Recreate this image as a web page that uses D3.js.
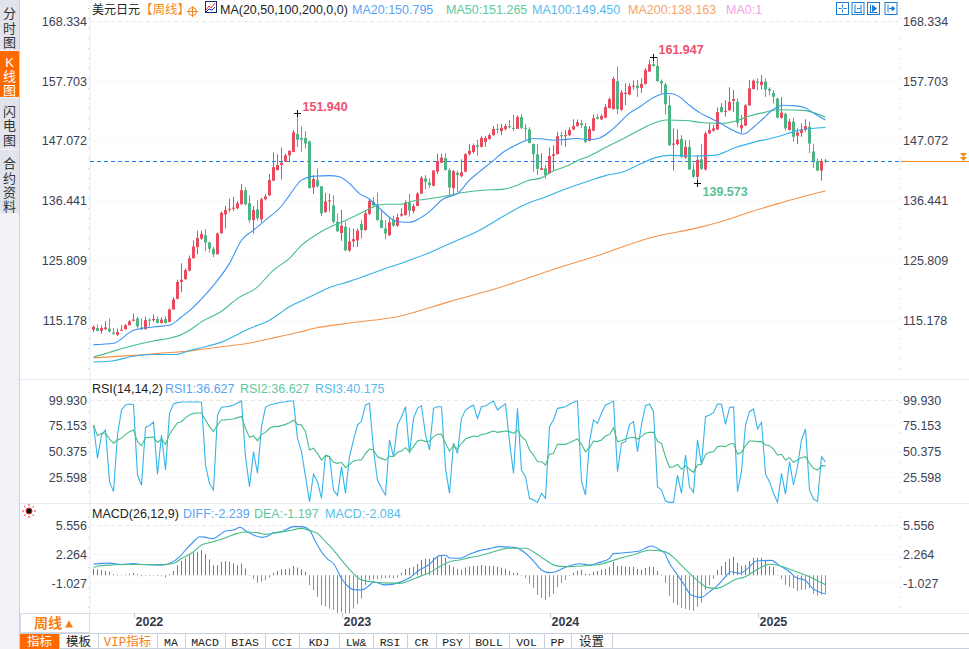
<!DOCTYPE html>
<html>
<head>
<meta charset="utf-8">
<title>美元日元 周线</title>
<script src="https://cdnjs.cloudflare.com/ajax/libs/d3/7.9.0/d3.min.js"></script>
<style>
  html, body { margin: 0; padding: 0; background: #fff; overflow: hidden; }
  svg { display: block; font-family: "Liberation Sans", "Noto Sans CJK SC", sans-serif; }
</style>
</head>
<body>
<svg id="chart" width="969" height="649"></svg>
<script>
// ── K 線（週線，共 184 根）────────────────────────────
const opens = [
  113.5,113.8,113.3,113.6,113.7,113.0,112.6,113.4,113.6,114.3,
  115.1,115.5,113.9,113.6,115.3,115.2,115.4,114.7,115.4,114.9,
  117.1,119.0,122.0,122.5,124.0,126.2,128.2,129.7,130.3,129.0,
  127.9,126.9,130.7,134.0,134.9,135.0,135.1,135.8,138.3,136.0,
  133.0,134.9,133.1,136.7,137.4,140.0,141.9,142.8,143.4,144.5,
  145.1,148.3,147.6,147.6,147.0,138.8,140.1,139.0,134.4,136.3,
  135.6,132.7,130.7,131.8,127.6,129.2,129.4,132.3,131.2,134.1,
  136.2,135.8,133.0,131.5,130.3,133.0,132.0,133.8,133.9,136.1,
  134.6,135.5,137.7,140.4,139.7,139.1,141.6,143.2,144.0,141.9,
  138.7,141.4,140.8,141.6,144.7,145.1,146.3,146.0,146.9,147.4,
  148.1,149.2,148.8,149.2,149.7,149.4,149.2,151.3,149.4,149.1,
  146.5,144.7,141.9,142.2,141.3,144.4,144.7,148.1,147.9,148.1,
  149.1,149.7,150.2,149.7,147.1,148.9,151.3,150.9,151.2,152.9,
  152.7,157.7,152.6,155.4,155.3,156.8,156.9,156.5,157.2,159.4,
  160.7,160.4,157.7,157.1,153.4,146.4,146.5,147.4,144.1,146.0,
  142.0,140.7,143.8,142.0,148.4,148.9,149.1,153.1,152.3,152.5,
  154.2,154.0,149.3,149.8,153.4,156.3,157.6,157.0,157.6,156.3,
  155.6,154.6,151.2,151.9,149.0,150.5,148.0,148.5,149.1,149.6,
  145.2,143.5,141.8,143.6
];
const highs = [
  114.3,114.5,114.3,115.0,115.5,113.8,113.7,114.3,114.5,115.2,
  116.4,115.8,115.5,115.8,115.5,116.2,115.9,115.7,115.9,117.3,
  119.3,122.4,125.3,124.4,126.7,129.4,131.1,131.1,131.4,129.2,
  128.2,130.8,134.5,135.5,136.8,137.1,136.4,139.4,138.8,137.4,
  135.5,136.5,137.0,137.6,141.2,145.0,144.7,145.9,144.8,145.4,
  149.0,151.94,149.7,148.8,147.1,141.0,142.2,139.0,137.8,137.7,
  137.4,134.2,134.8,132.7,131.6,131.5,131.5,133.0,134.8,136.8,
  137.1,137.9,134.9,133.0,133.5,133.8,134.1,135.1,136.5,137.7,
  135.9,138.0,140.8,141.0,140.4,141.9,144.8,144.8,144.9,142.2,
  141.9,141.8,143.8,144.9,146.5,146.6,147.3,147.9,147.9,148.4,
  149.7,150.1,150.1,150.1,150.8,151.7,151.6,151.8,150.1,149.5,
  146.6,146.5,144.9,142.8,145.9,146.3,148.7,148.7,149.0,149.5,
  150.9,150.9,150.8,150.3,149.7,151.8,151.8,151.8,153.6,154.8,
  158.5,160.3,156.1,157.3,157.3,157.8,157.9,158.2,160.0,161.5,
  161.947,161.9,158.0,157.4,155.2,149.3,149.1,148.1,147.2,147.2,
  143.1,144.5,146.5,148.7,150.2,149.9,153.0,153.8,154.3,156.6,
  156.1,154.6,151.7,153.6,157.9,158.0,158.2,158.8,158.2,156.6,
  156.1,154.8,154.9,152.1,151.0,151.2,149.3,150.2,150.9,150.5,
  146.6,143.9,143.9,143.9
];
const lows = [
  113.1,113.2,112.8,113.5,113.0,112.6,112.4,113.3,113.5,114.3,
  115.0,113.7,113.4,113.5,114.1,114.9,114.6,114.6,114.6,114.8,
  117.1,118.9,120.2,122.3,123.9,126.2,126.9,129.5,127.5,127.2,
  126.4,126.9,130.5,131.5,134.4,134.6,134.9,135.8,135.6,132.5,
  130.6,132.9,132.6,136.5,137.3,139.9,141.8,140.2,143.3,143.4,
  145.1,146.0,145.1,145.7,138.6,137.6,138.8,133.7,134.3,134.5,
  132.4,130.9,129.3,127.5,127.3,128.2,128.2,129.7,131.1,133.9,
  135.3,132.9,131.5,129.6,130.2,131.8,131.8,133.6,133.8,133.6,
  134.2,135.5,137.6,138.5,138.7,139.0,141.2,143.1,141.8,137.1,
  137.6,138.0,140.6,141.5,144.5,144.8,144.4,145.9,146.0,147.3,
  148.0,148.4,148.1,148.9,149.3,148.8,149.2,149.2,147.2,146.6,
  141.6,141.0,141.9,140.3,141.2,141.8,144.7,146.3,146.0,147.9,
  149.0,149.6,149.3,146.7,147.0,148.8,150.9,150.8,151.2,152.9,
  152.7,151.8,152.4,153.4,155.2,156.2,154.9,155.6,157.1,159.4,
  160.3,157.6,155.5,151.8,146.2,141.8,146.3,144.1,143.9,141.9,
  140.5,139.573,141.9,141.8,148.3,148.7,149.0,152.1,151.4,152.4,
  152.2,149.5,148.5,149.7,153.3,156.2,156.1,156.2,154.9,155.2,
  153.7,151.1,151.0,148.9,148.9,146.9,146.5,147.8,148.7,144.9,
  142.2,141.7,140.0,143.1
];
const closes = [
  114.0,113.3,113.8,113.9,113.2,112.8,113.1,113.5,114.3,115.0,
  115.3,114.1,113.6,115.2,115.2,115.4,114.7,115.3,114.7,117.1,
  118.9,122.0,122.4,124.1,126.2,128.3,129.8,130.5,129.0,127.9,
  126.9,130.6,134.3,134.8,135.0,135.2,136.0,138.3,135.8,133.0,
  134.8,133.3,136.7,137.2,140.1,142.4,142.8,143.2,144.5,145.3,
  148.6,147.3,147.3,146.6,138.7,140.3,139.0,134.2,136.3,136.5,
  132.7,131.0,132.0,127.6,129.2,129.6,131.1,131.2,134.2,136.4,
  135.6,133.0,131.6,130.6,132.6,132.0,133.5,134.1,136.1,134.7,
  135.5,137.7,140.5,139.8,139.2,141.8,143.5,144.1,141.9,138.8,
  141.7,141.0,141.5,144.7,145.3,146.3,146.0,147.6,147.6,148.1,
  149.2,149.1,149.4,149.7,149.5,149.2,151.3,149.4,149.2,146.7,
  144.7,142.1,142.2,141.0,144.4,144.7,147.9,147.9,148.1,149.0,
  149.7,150.4,149.9,146.9,149.2,151.1,151.0,151.5,153.1,154.5,
  158.1,152.7,155.7,155.6,156.8,156.9,156.5,157.2,159.7,160.7,
  160.4,157.7,157.3,153.6,146.3,146.6,147.3,144.2,146.0,142.0,
  140.7,143.7,142.1,148.4,149.0,149.3,152.2,152.2,152.4,154.0,
  154.5,150.3,149.9,153.4,156.4,157.8,157.4,157.6,156.2,156.0,
  154.9,151.2,152.1,149.3,150.5,147.8,148.6,149.1,149.7,146.6,
  143.5,141.8,143.5,143.4
];

// ── 均線：[K 線序號, 數值] ────────────────────────────
const ma20 = [
  [0,110.85],[5,111.1],[10,113.4],[15,114.0],[19,114.3],[22,115.8],[24,116.9],[27,119.0],[30,121.4],
  [34,125.3],[37,129.4],[40,131.2],[43,133.0],[47,135.5],[49,137.4],[52,140.1],[55,140.8],[59,140.9],
  [61.5,140.7],[64,139.5],[66.5,137.7],[69,136.7],[71.5,135.1],[75,133.0],[76.5,132.7],[79,132.6],
  [81.5,133.3],[84,134.5],[87.5,136.8],[91,137.7],[94,140.1],[96.5,141.6],[100,143.6],[102.5,145.1],
  [105.5,146.3],[108,147.1],[110,147.5],[112.5,147.4],[115,147.2],[117.5,147.3],[120.5,147.5],[124,147.3],
  [126.5,147.6],[129,148.7],[131.5,150.3],[134,152.0],[136.5,153.1],[140,154.8],[143,155.5],[144,155.5],
  [146.5,154.9],[149,153.4],[151.5,152.1],[154,151.2],[157.5,149.9],[160,148.9],[162.5,148.3],[165,149.5],
  [167.5,151.1],[170,152.7],[172.5,153.4],[175.5,153.3],[178,152.9],[180.5,151.8],[183,150.795]
];
const ma50 = [
  [0,108.66],[3,109.25],[5,109.7],[10,110.7],[15,111.5],[19,112.0],[21.5,112.5],[24,113.4],[27,114.9],
  [32,116.8],[36.5,119.3],[40.5,120.8],[45,124.1],[49,126.2],[52,128.5],[55.5,130.3],[59,131.7],[63,132.9],
  [67,134.3],[69.5,135.2],[73,135.8],[76.5,135.8],[80,136.4],[84,136.8],[89,137.4],[92.5,137.9],[97.5,138.3],
  [102.5,138.5],[106,139.2],[108.5,140.0],[112,140.5],[114.5,141.6],[118,142.5],[121.5,143.7],[124,144.4],
  [128,145.9],[132.5,147.5],[136.5,149.0],[140,150.2],[143,150.8],[148,150.7],[152.5,150.3],[157.5,150.2],
  [160.5,150.6],[164,151.5],[167.5,152.1],[171,152.6],[177.5,152.5],[180,152.1],[183,151.265]
];
const ma100 = [
  [0,107.77],[5,108.0],[10,108.8],[15,109.1],[20.5,109.1],[24,109.8],[27,110.3],[32,111.3],[39,113.7],
  [44,115.2],[49,117.6],[54,119.3],[59,121.0],[64,122.1],[72.3,124.2],[78,125.6],[84,127.2],[90,129.1],
  [96.5,131.2],[103,133.9],[108,135.8],[113,137.1],[117.5,138.4],[124,140.0],[128,140.9],[132.5,141.6],
  [136.5,142.9],[140.5,144.1],[144,144.5],[149,144.4],[155,144.5],[160.5,145.9],[165.5,146.9],[171,147.8],
  [176,148.9],[183,149.45]
];
const ma200 = [
  [0,108.5],[9,108.9],[13,109.1],[18,109.4],[24,109.7],[31,110.4],[38,111.0],[44,111.9],[51,113.0],
  [55.5,113.8],[64,114.7],[76.5,115.9],[89,118.5],[101.5,121.0],[114,124.0],[126.5,126.8],[139,129.8],
  [151.5,131.7],[159,133.2],[164,134.4],[171.5,136.0],[177,137.1],[183,138.163]
];

// ── RSI ──────────────────────────────────────────────
const rsi14 = [
  75.9,65.6,67.9,67.9,62.5,58.3,61.5,63.1,66.9,69.5,
  71.1,59.9,56,63.7,64,64.3,59.2,62.4,57.3,66.9,
  72.7,78.1,79.1,83,85.5,87.1,87.4,87.4,80.7,74.3,
  69.5,75.9,80.7,80.7,81.4,81.7,83,84.2,72.7,64,
  65.6,60.8,66.9,68.8,72.7,74.3,74.3,75.3,76.5,78.1,
  80.7,76.5,75.9,69.5,51.8,53.5,48.6,42.2,46.4,45.4,
  40,39,40,34.9,38.1,41.3,42.2,42.2,48.6,52.8,
  51.8,45.4,43.8,42.2,46.1,45.4,49.6,50.9,54.1,50.2,
  55.1,60.5,61.5,59.9,60.5,64.7,66.9,66.9,58.3,50.9,
  56,52.8,58.3,62.4,64,65.3,64.7,66.9,67.2,68.8,
  70.1,68.8,69.5,70.1,69.5,67.9,71.1,64.7,61.5,51.8,
  47,40.6,40.6,37.4,47.7,48.6,57.3,57.3,57.3,58.9,
  60.8,62.4,57.3,50.2,54.1,60.5,59.9,61.5,65.3,66.6,
  73.3,59.9,60.8,62.4,63.7,64,62.4,64.7,67.9,68.8,
  68.8,59.9,58.3,45.4,35.2,35.8,38.1,33.3,36.8,33.3,
  30.4,37.4,38.1,47.7,49.6,50.2,55.1,55.7,55.1,57.3,
  58.3,47.7,49.6,56,60.5,60.5,59.9,59.9,56.7,56,
  52.8,47,47.7,42.2,44.5,40,42.2,44.5,45.4,39,
  34.2,32.6,36.8,36.627
];
const rsi3 = [
  75.9,43.8,66.3,71.1,21.4,11.8,66.3,90.3,95.1,96.1,
  95.4,27.8,18,73.6,75.3,78.8,28.5,66.3,32.6,87.1,
  96.1,97.4,98,98,98,98,98,98,37.4,19.8,
  13.4,85.5,92.9,93.5,93.8,95.1,97,99,45.4,16.6,
  50.2,29.4,74.3,92.9,95.1,96.1,97,97.7,98.3,99,
  99,63.1,50.2,26.2,2.2,28.5,21.4,5.4,47,45.4,
  13.4,8,35.8,10.2,45.4,61.5,75.9,79.7,95.1,96.7,
  51.8,23,15,8.6,61.5,45.4,75.9,83.9,93.5,48.6,
  82.3,91.9,94.5,66.3,51.8,91.9,93.5,93.5,34.2,10.2,
  58.3,48.6,82.3,90.3,92.9,95.1,82.3,93.5,94.2,96.7,
  99,90.3,93.5,96.4,59.9,29.4,91.9,32.6,26.2,5.4,
  3.8,1.5,10.2,5.4,74.3,80.7,91.9,92.6,93.5,95.8,
  97.7,99,21.4,8.6,59.9,80.7,77.5,87.1,95.1,96.7,
  99,31,58.3,59.9,76.5,79.1,50.2,76.5,94.5,96.1,
  88.7,16.6,13.4,2.8,1.5,1.5,27.8,10.2,47,16.6,
  11.1,61.5,37.4,83.9,85.5,87.7,96.1,95.8,76.5,92.6,
  93.2,11.8,31,75.9,88.7,91.3,72,78.5,28.8,21.4,
  10.2,1.5,29.4,9.2,40.6,18.2,35.8,61.5,72,13.4,
  4.7,2.2,45.4,40.175
];

// ── MACD ─────────────────────────────────────────────
const macdHist = [
  0.76,0.65,0.57,0.49,0.38,0.11,0.04,0.04,0.08,0.15,
  0.27,0.11,-0.11,-0.08,-0.04,-0.04,-0.08,-0.11,-0.27,0.11,
  0.49,1.14,1.63,1.9,2.28,2.55,2.66,2.85,2.4,1.79,
  1.14,1.14,1.52,1.6,1.52,1.33,1.14,1.33,0.76,-0.02,
  -0.42,-0.87,-0.76,-0.57,-0.27,0.27,0.49,0.65,0.68,0.76,
  1.03,0.87,0.68,0.38,-1.14,-1.71,-2.47,-3.42,-3.54,-3.8,
  -3.92,-4.3,-4.18,-4.3,-4.3,-3.8,-3.31,-2.66,-1.14,-0.57,
  -0.49,-0.46,-0.38,-0.34,-0.3,-0.38,-0.27,0.27,0.72,0.83,
  0.95,1.29,1.74,1.86,1.86,2.01,2.2,2.31,2.01,1.17,
  0.95,0.72,0.61,0.87,0.98,1.06,1.06,1.17,1.06,1.06,
  1.06,0.95,0.83,0.72,0.49,0.27,0.27,-0.02,-0.34,-0.91,
  -1.44,-2.23,-2.58,-2.8,-2.46,-2.12,-1.36,-0.87,-0.53,-0.08,
  0.27,0.49,0.61,0.15,0.15,0.38,0.49,0.61,0.72,0.95,
  1.52,1.06,1.06,0.95,0.95,0.95,0.72,0.61,0.83,0.95,
  0.95,0.49,0.04,-0.87,-2.35,-3.14,-3.37,-3.71,-3.83,-3.94,
  -4.05,-3.6,-3.14,-1.67,-1.1,-0.42,0.61,1.06,1.52,1.86,
  2.08,1.4,1.06,1.17,1.63,1.97,1.97,1.97,1.74,1.06,
  0.95,0.04,-0.42,-1.1,-1.33,-1.48,-1.78,-1.67,-1.63,-1.48,
  -2.12,-2.31,-2.23,-2.084
];
const macdDiff = [
  [0,1.15],[4,1.26],[7,1.11],[10,1.22],[12,1.11],[17,1.03],[19,1.22],[21.5,1.98],[23,2.74],[25,3.69],
  [26.5,4.26],[28,4.19],[30,4.04],[31.5,4.45],[33,4.91],[35,5.02],[36.7,5.33],[38,4.95],[40,4.45],[42,4.19],
  [43.6,4.34],[45,4.72],[47,4.83],[50,5.4],[52,5.4],[54,5.02],[55.3,3.88],[57,2.55],[58.6,1.68],[60,1.22],
  [62,-0.49],[63.6,-1.36],[65,-1.74],[67,-1.78],[69,-1.25],[70,-0.87],[73,-1.21],[76.5,-0.92],[79,-0.39],
  [81.5,0.48],[84,1.13],[86.5,2.11],[88,2.15],[89,1.85],[91.5,1.81],[94,2.26],[96.5,2.68],[99,2.91],
  [101.5,3.13],[105.5,3.02],[108,2.38],[110.5,1.24],[112,0.48],[114,0.18],[115.5,0.29],[118,0.79],[121.5,1.2],
  [124,1.05],[126.5,1.35],[129,1.81],[130,2.34],[131.5,2.38],[134,2.49],[136.5,2.64],[139.4,3.21],[141.5,2.79],
  [142.8,2.38],[144,1.24],[146,-0.08],[147.7,-1.22],[149.4,-2.36],[151.9,-2.62],[154,-1.98],[155.7,-1.41],
  [157.3,-0.65],[159.4,0.29],[161.5,0.1],[163.6,0.67],[165.7,1.5],[169.5,1.58],[171.5,0.98],[174,0.29],
  [175.7,-0.39],[177.8,-0.65],[179.8,-1.6],[183,-2.239]
];
const macdDea = [
  [0,0.77],[1.5,0.96],[5,1.07],[10,1.11],[17,1.11],[20,1.22],[22,1.79],[25,2.55],[27,3.31],[30,3.69],
  [33,4.15],[36,4.64],[38,4.8],[41,4.72],[43,4.53],[46,4.72],[49,4.95],[52,5.21],[54,4.95],[56,4.64],
  [58,3.69],[60,2.74],[62,1.6],[65,0.08],[66.5,-0.53],[69,-0.83],[73,-0.98],[76.5,-1.03],[79,-0.73],
  [81.5,-0.27],[84,0.18],[86.5,0.86],[89,1.43],[91.5,1.62],[94,1.89],[96.5,2.11],[99,2.42],[101.5,2.76],
  [104,2.95],[108,2.95],[110.5,2.38],[113,1.62],[115.5,0.98],[118,0.86],[122,0.94],[126.5,1.13],[130,1.58],
  [131.5,1.81],[134.8,2.19],[139,2.72],[142.8,2.57],[144.8,2.0],[147.3,0.86],[149.4,-0.08],[151.5,-0.92],
  [153.6,-1.52],[155.7,-1.6],[158,-1.22],[160.2,-0.65],[163,-0.27],[165.7,0.48],[169,1.13],[172.3,0.86],
  [175.7,0.29],[179,-0.27],[183,-1.197]
];

// ── 刻度與標籤 ───────────────────────────────────────
const priceTicks = [168.334, 157.703, 147.072, 136.441, 125.809, 115.178];
const rsiTicks   = [99.930, 75.153, 50.375, 25.598];
const macdTicks  = [5.556, 2.264, -1.027];
const yearTicks  = [[10, "2022"], [62, "2023"], [114, "2024"], [166, "2025"]];
const LAST_PRICE = 143.4;
const priceMarks = [
  { i: 51,  price: 151.94,  label: "151.940", dx: 5, dy: -3, color: "#f0506e" },
  { i: 140, price: 161.947, label: "161.947", dx: 5, dy: -4, color: "#f0506e" },
  { i: 151, price: 139.573, label: "139.573", dx: 5, dy: 12, color: "#5cbf92" }
];
const tabs = [
  ["指标",20,59,"#fff"],["模板",59,98,"#222"],["VIP指标",98,157,"#f57f17"],["MA",157,185,"#222"],
  ["MACD",185,225,"#222"],["BIAS",225,265,"#222"],["CCI",265,299,"#222"],["KDJ",299,339,"#222"],
  ["LW&",339,373,"#222"],["RSI",373,407,"#222"],["CR",407,436,"#222"],["PSY",436,469,"#222"],
  ["BOLL",469,509,"#222"],["VOL",509,544,"#222"],["PP",544,571,"#222"],["设置",571,612,"#222"]
];
const sideTabs = [
  { chars: ["分","时","图"], y0: 0,   y1: 50,  ys: [13,28,42],     bg: "#e2e4ec", fg: "#333" },
  { chars: ["K","线","图"],  y0: 51,  y1: 97,  ys: [62,76,90],     bg: "#ff6a00", fg: "#fff" },
  { chars: ["闪","电","图"], y0: 98,  y1: 149, ys: [111,125,140],  bg: "#e2e4ec", fg: "#333" },
  { chars: ["合","约","资","料"], y0: 150, y1: 213, ys: [163,178,192,206], bg: "#e2e4ec", fg: "#333" }
];

const RED = "#ea4a5d", GREEN = "#4db585";
const C_MA20 = "#3a93f2", C_MA50 = "#45bd8a", C_MA100 = "#35b1e8", C_MA200 = "#f5944a";

const svg = d3.select("#chart");
const AXIS_L = 90, AXIS_R = 900.5;

// 比例尺
const x = d3.scaleLinear().domain([0, 183]).range([93.5, 825.5]);
const yPrice = d3.scaleLinear().domain([168.334, 115.178]).range([21.3, 320.3]);
const yRsi   = d3.scaleLinear().domain([99.93, 25.598]).range([400, 477.3]);
const yMacd  = d3.scaleLinear().domain([5.556, -1.027]).range([525.3, 583.3]);
const yHist  = d3.scaleLinear().domain([0, 1]).range([575.2, 566.4]); // 柱狀基準線略低於刻度零位

// ── 版面 ─────────────────────────────────────────────
svg.append("rect").attr("x", 0).attr("y", 0).attr("width", 19).attr("height", 649).attr("fill", "#f1f3f8");
svg.append("line").attr("x1", 19.5).attr("x2", 19.5).attr("y1", 0).attr("y2", 649).attr("stroke", "#ccd2dc");
sideTabs.forEach(t => {
  svg.append("rect").attr("x", 0).attr("y", t.y0).attr("width", 19).attr("height", t.y1 - t.y0).attr("fill", t.bg);
  t.chars.forEach((c, k) => {
    svg.append("text").attr("x", 9.5).attr("y", t.ys[k] + 5).attr("text-anchor", "middle")
      .attr("font-size", 13).attr("fill", t.fg).text(c);
  });
});

[379.5, 503.5, 613.5].forEach(v => {
  svg.append("line").attr("x1", 20).attr("x2", 969).attr("y1", v).attr("y2", v).attr("stroke", "#e6ecf1");
});
svg.append("line").attr("x1", AXIS_L).attr("x2", AXIS_L).attr("y1", 0).attr("y2", 613).attr("stroke", "#e6ebf0");

// 橫向格線與刻度文字
function hTicks(ticks, scale, fmt) {
  ticks.forEach(t => {
    const v = Math.floor(scale(t)) + 0.5;
    svg.append("line").attr("x1", AXIS_L).attr("x2", AXIS_R).attr("y1", v).attr("y2", v)
      .attr("stroke", "#e9e9e9").attr("stroke-dasharray", t === ticks[0] ? "4,3" : "1,3");
    svg.append("text").attr("x", 87).attr("y", v + 4).attr("text-anchor", "end")
      .attr("font-size", 12.5).attr("fill", "#3c4252").text(fmt(t));
    svg.append("text").attr("x", 903).attr("y", v + 4)
      .attr("font-size", 12.5).attr("fill", "#3c4252").text(fmt(t));
  });
}
hTicks(priceTicks, yPrice, d3.format(".3f"));
hTicks(rsiTicks, yRsi, d3.format(".3f"));
hTicks(macdTicks, yMacd, v => d3.format(".3f")(v).replace("−", "-"));

// 軸上的小點
[[88.5, 8, 376], [88.5, 392, 500], [88.5, 517, 610], [900.5, 8, 376], [900.5, 392, 500], [900.5, 517, 610]].forEach(d => {
  svg.append("line").attr("x1", d[0]).attr("x2", d[0]).attr("y1", d[1]).attr("y2", d[2])
    .attr("stroke", "#c9ced6").attr("stroke-dasharray", "1,9");
});

// ── 最新價虛線 ───────────────────────────────────────
const lastY = Math.floor(yPrice(LAST_PRICE)) + 0.5;
svg.append("line").attr("x1", AXIS_L).attr("x2", AXIS_R).attr("y1", lastY).attr("y2", lastY)
  .attr("stroke", "#1f7fe8").attr("stroke-dasharray", "4,3");
svg.append("line").attr("x1", AXIS_R).attr("x2", 969).attr("y1", lastY).attr("y2", lastY).attr("stroke", "#f08a1d");
[153, 157].forEach(t => {
  svg.append("path").attr("d", `M960,${t}h7l-3.5,4z`).attr("fill", "#f08a1d");
});

// ── K 線 ─────────────────────────────────────────────
const candles = d3.range(closes.length).map(i => ({ i, o: opens[i], h: highs[i], l: lows[i], c: closes[i] }));
const candleG = svg.append("g").attr("class", "candles");
candles.forEach(d => {
  const col = d.c >= d.o ? RED : GREEN;
  const cx = x(d.i);
  candleG.append("rect").attr("x", cx - 0.5).attr("width", 1)
    .attr("y", yPrice(d.h)).attr("height", yPrice(d.l) - yPrice(d.h)).attr("fill", col);
  const top = yPrice(Math.max(d.o, d.c)), bot = yPrice(Math.min(d.o, d.c));
  candleG.append("rect").attr("x", cx - 1.5).attr("width", 3)
    .attr("y", top).attr("height", Math.max(1, bot - top)).attr("fill", col);
});

// ── 均線 ─────────────────────────────────────────────
function drawPairs(data, scale, color) {
  const line = d3.line().x(d => x(d[0])).y(d => scale(d[1])).curve(d3.curveMonotoneX);
  svg.append("path").attr("d", line(data)).attr("fill", "none").attr("stroke", color).attr("stroke-width", 1.1);
}
drawPairs(ma200, yPrice, C_MA200);
drawPairs(ma100, yPrice, C_MA100);
drawPairs(ma50, yPrice, C_MA50);
drawPairs(ma20, yPrice, C_MA20);

// 高低點標記
priceMarks.forEach(m => {
  const px = x(m.i), py = Math.floor(yPrice(m.price)) + 0.5;
  svg.append("path").attr("d", `M${px - 3.5},${py}h7M${px},${py - 3.5}v7`).attr("stroke", "#111").attr("fill", "none");
  svg.append("text").attr("x", px + m.dx).attr("y", py + m.dy).attr("font-size", 12.5).attr("font-weight", "bold")
    .attr("fill", m.color).text(m.label);
});

// ── RSI ──────────────────────────────────────────────
function drawSeries(values, scale, color) {
  const line = d3.line().x((d, i) => x(i)).y(d => scale(d));
  svg.append("path").attr("d", line(values)).attr("fill", "none").attr("stroke", color).attr("stroke-width", 1.1);
}
drawSeries(rsi3, yRsi, "#35b5e9");
drawSeries(rsi14, yRsi, "#45bd8a");

// ── MACD ─────────────────────────────────────────────
macdHist.forEach((v, i) => {
  const y0 = yHist(0), y1 = yHist(v);
  svg.append("rect").attr("x", x(i) - 0.5).attr("width", 1)
    .attr("y", Math.min(y0, y1)).attr("height", Math.max(0.6, Math.abs(y1 - y0)))
    .attr("fill", v >= 0 ? RED : GREEN);
});
drawPairs(macdDiff, yMacd, "#3a93f2");
drawPairs(macdDea, yMacd, "#45bd8a");

// ── 圖例列 ───────────────────────────────────────────
function legend(items, y) {
  items.forEach(d => {
    svg.append("text").attr("x", d[0]).attr("y", y).attr("font-size", d[3] || 12.5).attr("fill", d[2]).text(d[1]);
  });
}
legend([
  [92, "美元日元", "#222", 12], [140, "【周线】", "#f58a1f"], [220, "MA(20,50,100,200,0,0)", "#222"],
  [352, "MA20:150.795", "#5aa3f5"], [446, "MA50:151.265", "#63c79c"], [532, "MA100:149.450", "#55bdee"],
  [628, "MA200:138.163", "#f5a56b"], [726, "MA0:1", "#f0a4e4"]
], 14);
legend([
  [92, "RSI(14,14,2)", "#222"], [165, "RSI1:36.627", "#5aa3f5"], [240, "RSI2:36.627", "#63c79c"], [315, "RSI3:40.175", "#55bdee"]
], 393);
legend([
  [92, "MACD(26,12,9)", "#222"], [183, "DIFF:-2.239", "#5aa3f5"], [254, "DEA:-1.197", "#63c79c"], [325, "MACD:-2.084", "#55bdee"]
], 518);

// 標題旁的圖示
svg.append("circle").attr("cx", 192.5).attr("cy", 11.5).attr("r", 4).attr("fill", "none").attr("stroke", "#f58a1f");
svg.append("path").attr("d", "M187,11.5h11M192.5,6v11").attr("stroke", "#f58a1f");
svg.append("rect").attr("x", 205.5).attr("y", 1.5).attr("width", 11).attr("height", 11).attr("fill", "#fff").attr("stroke", "#1a2a6c");
svg.append("path").attr("d", "M206,10l3,-4l2,2l4,-5").attr("fill", "none").attr("stroke", "#e33");
svg.append("path").attr("d", "M206,12l3,-3l3,1l3,-3").attr("fill", "none").attr("stroke", "#1a2a9c");

// 右上角按鈕
[836.5, 852, 867.5, 885].forEach((bx, k) => {
  const g = svg.append("g").attr("transform", `translate(${bx},2.5)`);
  g.append("rect").attr("width", 12).attr("height", 12).attr("fill", "#fff").attr("stroke", "#1b7bd0");
  const glyph = ["M6,2v3M6,7v3M2,6h3M7,6h3", "M3,2v8M9,2v8M2,10h8M5,6h3", "M3,2v8M2,10h8M5,3l4,3l-4,3z", "M3,2v8M4,6h4M7,4l3,2l-3,2z"][k];
  g.append("path").attr("d", glyph).attr("fill", k > 1 ? "#1b7bd0" : "none").attr("stroke", "#1b7bd0");
});

// MACD 區左上的圖示
const sun = svg.append("g").attr("transform", "translate(29,511)");
sun.append("circle").attr("r", 3).attr("fill", "#111").attr("stroke", "#e22");
d3.range(8).forEach(k => {
  const a = k * Math.PI / 4;
  sun.append("line").attr("x1", Math.cos(a) * 5).attr("y1", Math.sin(a) * 5)
    .attr("x2", Math.cos(a) * 7).attr("y2", Math.sin(a) * 7).attr("stroke", "#e22");
});

// ── 時間軸 ───────────────────────────────────────────
yearTicks.forEach(t => {
  const px = Math.round(x(t[0]));
  svg.append("line").attr("x1", px + 0.5).attr("x2", px + 0.5).attr("y1", 613).attr("y2", 618).attr("stroke", "#c4c9d2");
  svg.append("text").attr("x", px + 1.5).attr("y", 626).attr("font-size", 12.5).attr("font-weight", "bold")
    .attr("fill", "#333a48").text(t[1]);
});
svg.append("rect").attr("x", 20.5).attr("y", 613.5).attr("width", 69).attr("height", 19).attr("fill", "#fff").attr("stroke", "#d5dae3");
svg.append("text").attr("x", 34).attr("y", 628).attr("font-size", 14).attr("font-weight", "bold").attr("fill", "#f57f17").text("周线");
svg.append("path").attr("d", "M65,627.5h8l-4,-7z").attr("fill", "#f57f17");

// ── 底部頁籤 ─────────────────────────────────────────
svg.append("line").attr("x1", 20).attr("x2", 969).attr("y1", 633.5).attr("y2", 633.5).attr("stroke", "#c8d0dc");
svg.append("line").attr("x1", 20).attr("x2", 969).attr("y1", 648.5).attr("y2", 648.5).attr("stroke", "#c8d0dc");
tabs.forEach((t, k) => {
  if (k === 0) svg.append("rect").attr("x", t[1]).attr("y", 634).attr("width", t[2] - t[1]).attr("height", 15).attr("fill", "#ff6a00");
  svg.append("line").attr("x1", t[2] + 0.5).attr("x2", t[2] + 0.5).attr("y1", 634).attr("y2", 649).attr("stroke", "#c8d0dc");
  svg.append("text").attr("x", (t[1] + t[2]) / 2).attr("y", 645.5).attr("text-anchor", "middle")
    .attr("font-family", "'Liberation Mono','Noto Sans CJK SC',monospace").attr("font-size", /[一-龥]/.test(t[0]) ? 12.5 : 11.5)
    .attr("fill", t[3]).text(t[0]);
});
</script>
</body>
</html>
